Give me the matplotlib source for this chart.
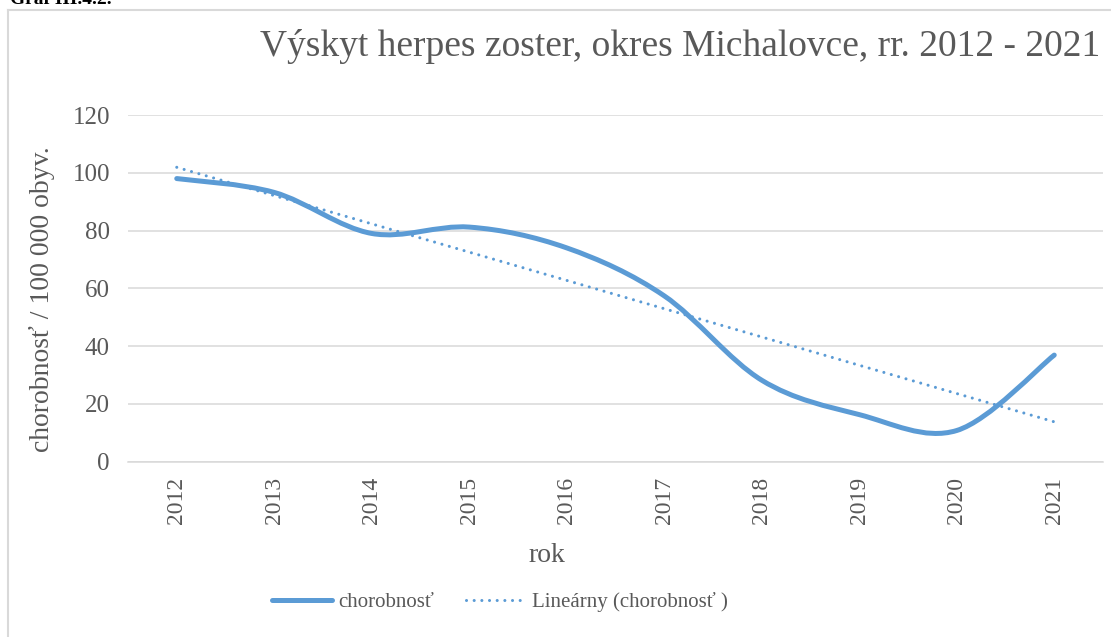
"""
Incidence of herpes zoster, Michalovce district, 2012 - 2021.
Excel-style smoothed line with a linear trend line.
"""

import numpy as np
import matplotlib
matplotlib.use("Agg")
import matplotlib.pyplot as plt
from matplotlib.path import Path
from matplotlib.patches import PathPatch
from matplotlib.lines import Line2D


# -------------------------------------------------------
# Data
# -------------------------------------------------------

years = ["2012", "2013", "2014", "2015", "2016",
         "2017", "2018", "2019", "2020", "2021"]
incidence = [98.0, 93.2, 79.0, 81.2, 74.0, 57.4, 28.2, 16.3, 10.8, 36.9]

# linear trend as drawn in the source chart (first and last year)
trend_years = ["2012", "2021"]
trend_values = [101.9, 13.8]

title = "Výskyt herpes zoster, okres Michalovce, rr. 2012 - 2021"
ylabel = "chorobnosť / 100 000 obyv."
xlabel = "rok"
series_label = "chorobnosť"
trend_label = "Lineárny (chorobnosť )"
yticks = [0, 20, 40, 60, 80, 100, 120]

BLUE = "#5B9BD5"
GREY_TXT = "#595959"
GRID = "#D9D9D9"

plt.rcParams["font.family"] = ["Liberation Serif", "DejaVu Serif"]


def smooth_path(x, y, tension=1/6):
    """Bezier path through the points, like Excel's smoothed line."""
    x = np.asarray(x, float)
    y = np.asarray(y, float)
    n = len(x)
    verts = [(x[0], y[0])]
    codes = [Path.MOVETO]
    for i in range(n - 1):
        i0 = max(i - 1, 0)
        i3 = min(i + 2, n - 1)
        c1 = (x[i] + (x[i + 1] - x[i0]) * tension,
              y[i] + (y[i + 1] - y[i0]) * tension)
        c2 = (x[i + 1] - (x[i3] - x[i]) * tension,
              y[i + 1] - (y[i3] - y[i]) * tension)
        verts += [c1, c2, (x[i + 1], y[i + 1])]
        codes += [Path.CURVE4] * 3
    return Path(verts, codes)


# -------------------------------------------------------
# Figure
# -------------------------------------------------------

fig = plt.figure(figsize=(11.11, 6.37), dpi=100)
ax = fig.add_axes([128 / 1111, 1 - 461.7 / 637,
                   975 / 1111, 346.7 / 637])

xpos = np.arange(len(years))
ax.set_xlim(-0.5, len(years) - 0.5)
ax.set_ylim(0, 120)

patch = PathPatch(smooth_path(xpos, incidence), facecolor="none",
                  edgecolor=BLUE, lw=3.6, capstyle="round",
                  joinstyle="round", zorder=3)
ax.add_patch(patch)

trend_x = [years.index(t) for t in trend_years]
ax.plot(trend_x, trend_values, color=BLUE, lw=2.2,
        linestyle=(0, (0.01, 2.5)), dash_capstyle="round", zorder=2)

ax.set_yticks(yticks)
ax.set_xticks(xpos)
ax.set_xticklabels(years, rotation=90)
ax.tick_params(axis="both", length=0, colors=GREY_TXT)
ax.tick_params(axis="x", labelsize=17, pad=11)
ax.tick_params(axis="y", labelsize=18, pad=13)
ax.grid(axis="y", color=GRID, lw=1.1)
ax.set_axisbelow(True)
for side in ["top", "right", "left"]:
    ax.spines[side].set_visible(False)
ax.spines["bottom"].set_color(GRID)
ax.spines["bottom"].set_linewidth(1.1)

ax.set_ylabel(ylabel, fontsize=20, color=GREY_TXT)
ax.yaxis.set_label_coords(-0.075, 0.47)
ax.set_xlabel(xlabel, fontsize=20, color=GREY_TXT)
ax.xaxis.set_label_coords(0.43, -0.235)

fig.text(1100 / 1111, 1 - 47 / 637, title, ha="right", va="center",
         fontsize=27, color=GREY_TXT)

# legend
handles = [Line2D([], [], color=BLUE, lw=3.6, solid_capstyle="round"),
           Line2D([], [], color=BLUE, lw=2.2, linestyle=(0, (0.01, 2.5)),
                  dash_capstyle="round")]
fig.legend(handles, [series_label, trend_label], ncol=2,
           loc="center", bbox_to_anchor=(500 / 1111, 1 - 602 / 637),
           frameon=False, fontsize=15, labelcolor=GREY_TXT,
           handlelength=2.9, handletextpad=0.3, columnspacing=1.5)

# chart frame and cut-off caption
fig.add_artist(Line2D([7.5 / 1111, 1], [1 - 9.5 / 637] * 2,
                      transform=fig.transFigure, color=GRID, lw=1.5))
fig.add_artist(Line2D([7.5 / 1111] * 2, [0, 1 - 9.5 / 637],
                      transform=fig.transFigure, color=GRID, lw=1.5))
fig.text(10 / 1111, 1 - 4.5 / 637, "Graf III.4.2.", ha="left",
         va="baseline", fontsize=14, fontweight="bold", color="black")

fig.savefig("out.png", dpi=100, facecolor="white")
